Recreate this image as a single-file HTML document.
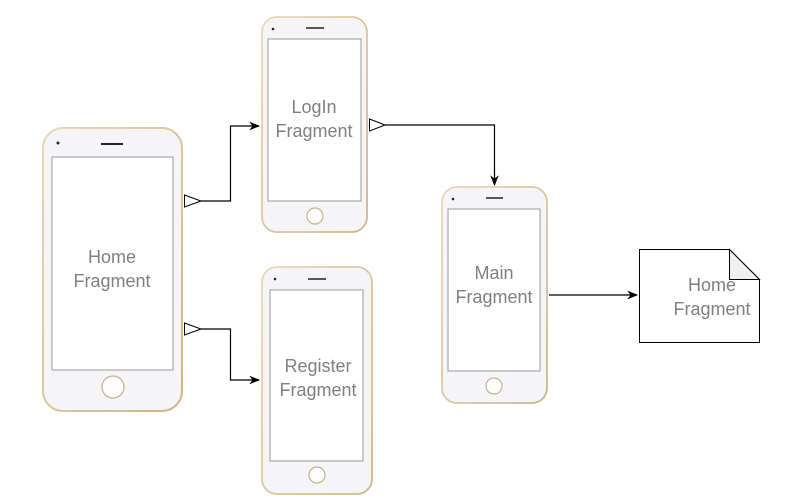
<!DOCTYPE html>
<html><head><meta charset="utf-8"><style>
html,body{margin:0;padding:0;background:#fff;}
svg{display:block;}
text{font-family:"Liberation Sans",sans-serif;fill:#808080;font-size:18px;text-anchor:middle;}
</style></head><body>
<svg width="797" height="504" viewBox="0 0 797 504" xmlns="http://www.w3.org/2000/svg">
<defs>
<marker id="a" viewBox="0 0 10 10" refX="9" refY="5" markerWidth="9" markerHeight="9" orient="auto"><path d="M0,1 L10,5 L0,9 L3,5 Z" fill="#000"/></marker>
<linearGradient id="g" x1="0" y1="0" x2="1" y2="1"><stop offset="0" stop-color="#ead8b8"/><stop offset="1" stop-color="#d0b485"/></linearGradient>
</defs>
<g>
<rect x="43" y="128" width="139" height="283" rx="20" fill="#f5f5f7" stroke="url(#g)" stroke-width="2"/>
<rect x="52" y="157" width="121" height="213" fill="#fff" stroke="#999" stroke-width="1"/>
<circle cx="58" cy="143" r="1.5" fill="#223"/>
<line x1="101" y1="144" x2="123" y2="144" stroke="#222" stroke-width="2"/>
<circle cx="113" cy="387" r="11" fill="#fff" stroke="#c9b08a" stroke-width="1.2"/>
<text x="112" y="263">Home</text><text x="112" y="287">Fragment</text>
</g>
<g>
<rect x="262" y="17" width="105" height="215" rx="15" fill="#f5f5f7" stroke="url(#g)" stroke-width="1.8"/>
<rect x="268" y="39" width="93" height="162" fill="#fff" stroke="#999" stroke-width="1"/>
<circle cx="273" cy="29" r="1.3" fill="#223"/>
<line x1="306" y1="28" x2="324" y2="28" stroke="#222" stroke-width="1.5"/>
<circle cx="315" cy="216" r="8" fill="#fff" stroke="#c9b08a" stroke-width="1.2"/>
<text x="314" y="113">LogIn</text><text x="314" y="137">Fragment</text>
</g>
<g>
<rect x="262" y="267" width="110" height="227" rx="15" fill="#f5f5f7" stroke="url(#g)" stroke-width="1.8"/>
<rect x="270" y="290" width="93" height="171" fill="#fff" stroke="#999" stroke-width="1"/>
<circle cx="275" cy="279" r="1.3" fill="#223"/>
<line x1="308" y1="279" x2="326" y2="279" stroke="#222" stroke-width="1.5"/>
<circle cx="317" cy="475" r="8" fill="#fff" stroke="#c9b08a" stroke-width="1.2"/>
<text x="318" y="372">Register</text><text x="318" y="396">Fragment</text>
</g>
<g>
<rect x="442" y="187" width="105" height="216" rx="15" fill="#f5f5f7" stroke="url(#g)" stroke-width="1.8"/>
<rect x="448" y="209" width="92" height="162" fill="#fff" stroke="#999" stroke-width="1"/>
<circle cx="453" cy="199" r="1.3" fill="#223"/>
<line x1="486" y1="198" x2="503" y2="198" stroke="#222" stroke-width="1.5"/>
<circle cx="494" cy="386" r="8" fill="#fff" stroke="#c9b08a" stroke-width="1.2"/>
<text x="494" y="279">Main</text><text x="494" y="303">Fragment</text>
</g>
<path d="M639.5,249.5 H729.5 L759.5,279.5 V342.5 H639.5 Z" fill="#fff" stroke="#000" stroke-width="1"/>
<path d="M729.5,249.5 V279.5 H759.5 Z" fill="#f0f0f0" stroke="#000" stroke-width="1"/>
<text x="712" y="291">Home</text><text x="712" y="315">Fragment</text>
<g fill="none" stroke="#000" stroke-width="1.2">
<path d="M201,201 H230.5 V126 H259" marker-end="url(#a)"/>
<path d="M201,329 H230.5 V380 H259" marker-end="url(#a)"/>
<path d="M385,125 H494.5 V185" marker-end="url(#a)"/>
<path d="M549,295 H637" marker-end="url(#a)"/>
</g>
<g fill="#fff" stroke="#000" stroke-width="1">
<path d="M184.5,195 L201,201 L184.5,207 Z"/>
<path d="M184.5,323 L201,329 L184.5,335 Z"/>
<path d="M369.5,119 L385,125 L369.5,131 Z"/>
</g>
</svg>
</body></html>
